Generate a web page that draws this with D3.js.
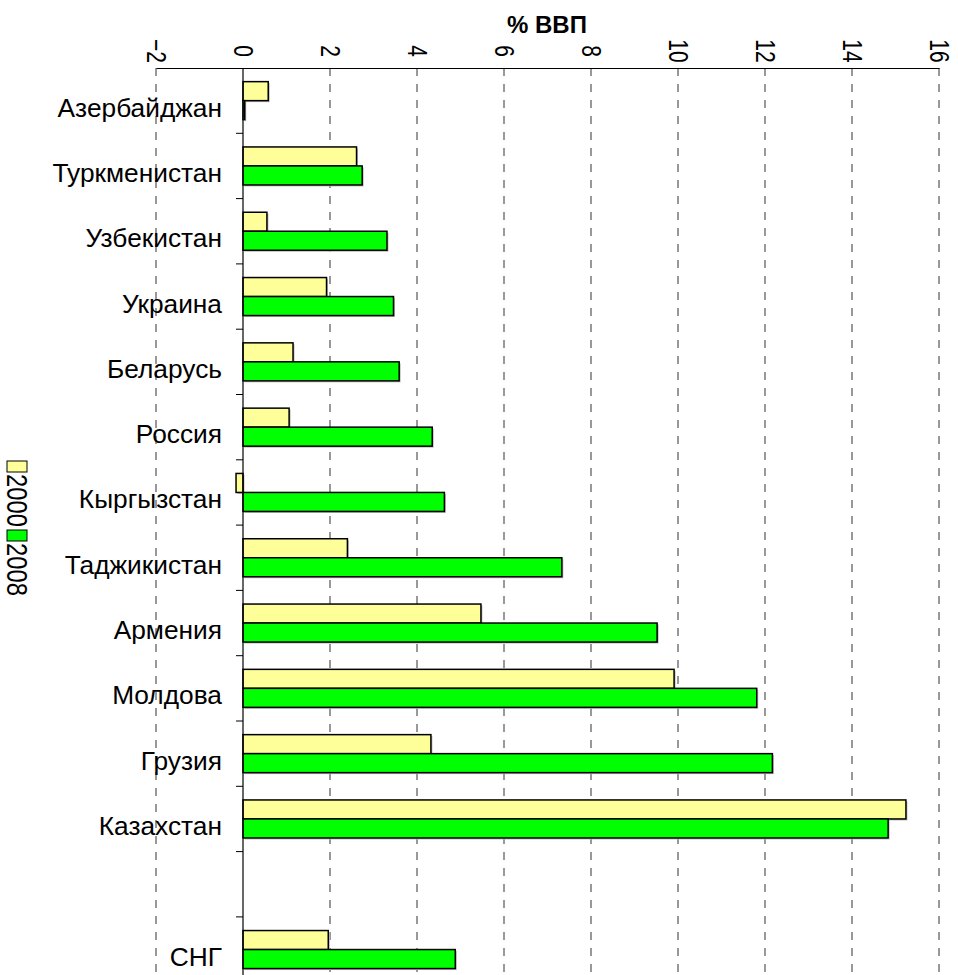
<!DOCTYPE html>
<html>
<head>
<meta charset="utf-8">
<script src="https://cdn.jsdelivr.net/npm/d3@7"></script>
<style>
  body { margin: 0; background: #fff; }
  text { font-family: Arial, "Liberation Sans", sans-serif; }
</style>
</head>
<body>
<svg id="chart" width="958" height="975"></svg>
<script>
// data
const categories = ["Азербайджан", "Туркменистан", "Узбекистан", "Украина", "Беларусь", "Россия",
  "Кыргызстан", "Таджикистан", "Армения", "Молдова", "Грузия", "Казахстан", "", "СНГ"];
const values2000 = [0.58, 2.61, 0.55, 1.92, 1.15, 1.06, -0.16, 2.40, 5.47, 9.91, 4.32, 15.24, null, 1.96];
const values2008 = [0.04, 2.74, 3.31, 3.46, 3.59, 4.35, 4.63, 7.33, 9.52, 11.81, 12.17, 14.83, null, 4.88];
const seriesNames = ["2000", "2008"];
const seriesColors = ["#ffff99", "#00ff00"];
const xTicks = [-2, 0, 2, 4, 6, 8, 10, 12, 14, 16];

const svg = d3.select("#chart");

const plotTop = 68;
const x = d3.scaleLinear().domain([-2, 16]).range([156, 939]);
const y = d3.scaleBand()
  .domain(d3.range(categories.length))
  .range([plotTop, plotTop + 14 * 65.3])
  .paddingInner(0.418)
  .paddingOuter(0.209);
const ySub = d3.scaleBand().domain(seriesNames).range([0, y.bandwidth()]);

// dashed grid lines
svg.append("g")
  .selectAll("line")
  .data(xTicks.filter(d => d !== 0))
  .join("line")
  .attr("x1", d => x(d)).attr("x2", d => x(d))
  .attr("y1", plotTop).attr("y2", 975)
  .attr("stroke", "#333")
  .attr("stroke-width", 1)
  .attr("stroke-dasharray", "8,8");

// top axis
const xAxis = d3.axisTop(x).tickValues(xTicks).tickSize(0).tickFormat(d3.format("d"));
const gx = svg.append("g").attr("transform", `translate(0, ${plotTop})`).call(xAxis);
gx.select(".domain").attr("stroke", "#000").attr("stroke-width", 1.2);
gx.selectAll(".tick text")
  .attr("y", 0)
  .attr("dy", 0)
  .attr("transform", "translate(0,-17) rotate(90) scale(0.75,1)")
  .attr("text-anchor", "middle")
  .attr("dominant-baseline", "central")
  .attr("font-size", 28)
  .attr("fill", "#000");

// bars
const rows = categories.map((c, i) => ({ i, vals: [values2000[i], values2008[i]] }));
const groups = svg.append("g").selectAll("g")
  .data(rows.filter(r => r.vals[0] !== null))
  .join("g")
  .attr("transform", r => `translate(0, ${y(r.i)})`);

groups.selectAll("rect.shadow")
  .data(r => r.vals.map((v, k) => ({ v, k })))
  .join("rect")
  .attr("class", "shadow")
  .attr("x", d => Math.min(x(0), x(d.v)) + 1.5)
  .attr("y", d => ySub(seriesNames[d.k]) + 1.5)
  .attr("width", d => Math.abs(x(d.v) - x(0)))
  .attr("height", ySub.bandwidth())
  .attr("fill", "#bbb");

groups.selectAll("rect.bar")
  .data(r => r.vals.map((v, k) => ({ v, k })))
  .join("rect")
  .attr("class", "bar")
  .attr("x", d => Math.min(x(0), x(d.v)))
  .attr("y", d => ySub(seriesNames[d.k]))
  .attr("width", d => Math.abs(x(d.v) - x(0)))
  .attr("height", ySub.bandwidth())
  .attr("fill", d => seriesColors[d.k])
  .attr("stroke", "#000")
  .attr("stroke-width", 1.5);

// left axis at zero with ticks at band boundaries
svg.append("line")
  .attr("x1", x(0)).attr("x2", x(0))
  .attr("y1", plotTop).attr("y2", 975)
  .attr("stroke", "#000").attr("stroke-width", 1.2);

svg.append("g")
  .selectAll("line")
  .data(d3.range(1, categories.length))
  .join("line")
  .attr("x1", x(0) - 7).attr("x2", x(0))
  .attr("y1", i => y.step() * i + plotTop).attr("y2", i => y.step() * i + plotTop)
  .attr("stroke", "#000").attr("stroke-width", 1);

// category labels
svg.append("g")
  .selectAll("text")
  .data(categories)
  .join("text")
  .attr("x", 222)
  .attr("y", (d, i) => y(i) + y.bandwidth() / 2 + 16)
  .attr("text-anchor", "end")
  .attr("font-size", 26.3)
  .text(d => d);

// title
svg.append("text")
  .attr("x", 547).attr("y", 33)
  .attr("text-anchor", "middle")
  .attr("font-size", 24)
  .attr("font-weight", "bold")
  .text("% ВВП");

// legend (rotated)
const legend = svg.append("g").attr("transform", "translate(17, 461) rotate(90)");
const legendPos = [0, 69];
seriesNames.forEach((s, k) => {
  legend.append("rect")
    .attr("x", legendPos[k]).attr("y", -10)
    .attr("width", 11).attr("height", 20)
    .attr("fill", seriesColors[k])
    .attr("stroke", "#000").attr("stroke-width", 1);
  legend.append("text")
    .attr("x", legendPos[k] + 13).attr("y", 0)
    .attr("dominant-baseline", "central")
    .attr("font-size", 30)
    .attr("textLength", 53)
    .attr("lengthAdjust", "spacingAndGlyphs")
    .text(s);
});
</script>
</body>
</html>
